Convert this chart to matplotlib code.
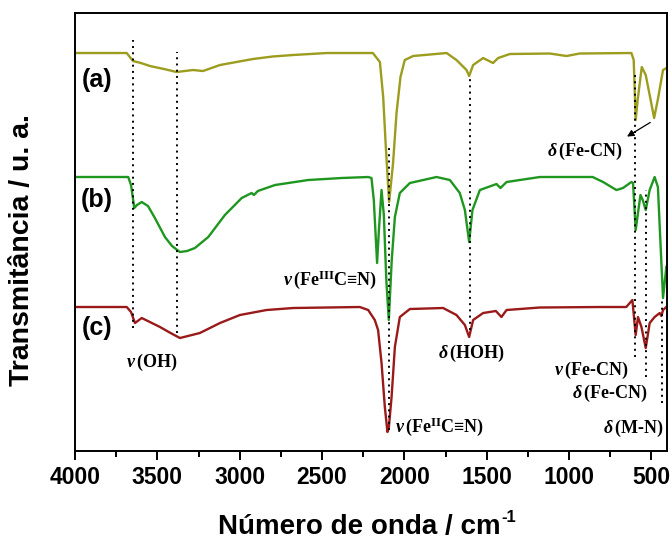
import matplotlib
matplotlib.use("Agg")
import matplotlib.pyplot as plt
from matplotlib.ticker import MultipleLocator

# spectra read as (wavenumber [cm-1], transmittance [a.u.]), curves already offset
wn_a = [4000, 3686, 3648, 3600, 3545, 3460, 3383, 3284, 3223, 3120, 3020, 2920, 2800, 2677,
        2471, 2192, 2149, 2129, 2113, 2093, 2069, 2048, 2024, 1998, 1947, 1744, 1684, 1623,
        1607, 1583, 1522, 1462, 1431, 1360, 1118, 1016, 936, 622, 608, 596, 584, 559, 535,
        511, 484, 462, 430, 408]
t_a = [398, 398, 390, 388, 385, 382, 379, 381, 380, 386, 389, 392, 394.5, 396,
       398, 398, 389, 354, 304, 249, 288, 338, 374, 391, 395, 398, 391, 381,
       375, 386, 393, 388, 393, 397, 397.5, 395, 397.5, 398, 391, 331, 351, 384, 376,
       356, 333, 351, 381, 383]

wn_b = [4000, 3677, 3660, 3640, 3624, 3595, 3557, 3515, 3454, 3411, 3363, 3320, 3272, 3191,
        3090, 2988, 2928, 2914, 2890, 2786, 2584, 2382, 2220, 2200, 2186, 2166, 2155, 2139,
        2125, 2110, 2095, 2077, 2058, 2028, 1967, 1805, 1724, 1664, 1633, 1607, 1587, 1542,
        1441, 1417, 1380, 1178, 857, 794, 713, 673, 622, 612, 596, 567, 553, 535, 511, 481,
        461, 450, 430, 410]
t_b = [274, 274, 266, 243, 246, 249, 245, 233, 214, 205, 199, 200, 203, 214,
       236, 253, 258, 256, 260, 266, 271, 273, 274, 273, 251, 188, 221, 261,
       236, 171, 131, 191, 234, 258, 268, 274, 271, 258, 241, 209, 241, 261,
       267, 263, 269, 274, 274, 269, 261, 263, 269, 268, 221, 256, 251, 241, 261, 274,
       264, 224, 153, 184]

wn_c = [4000, 3686, 3660, 3636, 3595, 3484, 3420, 3363, 3242, 3120, 2999, 2837, 2675, 2271,
        2220, 2180, 2160, 2139, 2119, 2103, 2095, 2078, 2058, 2028, 1967, 1765, 1684, 1633,
        1607, 1583, 1522, 1445, 1411, 1380, 1178, 814, 653, 616, 596, 582, 561, 535, 511,
        481, 450, 440, 430, 410]
t_c = [144, 144, 139, 128, 133, 124, 118, 113, 118, 128, 136, 141, 143, 144,
       141, 131, 121, 88, 44, 19, 23, 54, 104, 134, 142, 143, 136, 126,
       114, 131, 138, 140, 134, 141, 143.5, 144, 144, 151, 116, 134, 124, 103, 128,
       134, 138, 135, 141, 144]

# band positions marked with dotted guides: wavenumber, lower and upper end
guide_wn = [3646, 3383, 2095, 1603, 598, 535, 434]
guide_lo = [123, 118, 21, 121, 94, 74, 48]
guide_hi = [411, 399, 304, 374, 378, 261, 153]

plt.rcParams['mathtext.fontset'] = 'custom'
plt.rcParams['mathtext.rm'] = 'Liberation Serif:bold'
plt.rcParams['mathtext.it'] = 'Liberation Serif:italic:bold'
plt.rcParams['mathtext.bf'] = 'Liberation Serif:bold'

fig = plt.figure(figsize=(6.71, 5.40), dpi=100)
ax = fig.add_axes([0.1118, 0.1648, 0.8822, 0.8111])

ax.plot(wn_a, t_a, color='#9c9c1e', lw=1.7)
ax.plot(wn_b, t_b, color='#1f961f', lw=1.7)
ax.plot(wn_c, t_c, color='#9a1a1a', lw=1.7)

for w, lo, hi in zip(guide_wn, guide_lo, guide_hi):
    ax.plot([w, w], [lo, hi], color='black', lw=1.4, linestyle=(0, (1, 2.2)))

ax.set_xlim(4000, 406)
ax.set_ylim(0, 438)
ax.xaxis.set_major_locator(MultipleLocator(500))
ax.xaxis.set_minor_locator(MultipleLocator(250))
ax.set_yticks([])
ax.tick_params(axis='x', which='major', direction='out', length=6.5, width=1.4, pad=4.5)
ax.tick_params(axis='x', which='minor', direction='out', length=4, width=1.4)
for lab in ax.get_xticklabels():
    lab.set_fontfamily('Liberation Sans')
    lab.set_fontweight('bold')
    lab.set_fontsize(16.5)
for sp in ax.spines.values():
    sp.set_linewidth(1.4)

ax.set_xlabel('Número de onda / cm', family='Liberation Sans', fontweight='bold',
              fontsize=20)
ax.xaxis.set_label_coords(0.48, -0.143)
ax.set_ylabel('Transmitância / u. a.', family='Liberation Sans', fontweight='bold',
              fontsize=20.5)
ax.yaxis.set_label_coords(-0.068, 0.459)

for name, yy in [('(a)', 371), ('(b)', 251), ('(c)', 123)]:
    ax.text(3866, yy, name, family='Liberation Sans', fontweight='bold', fontsize=18,
            ha='center', va='center')

fs = 13
ax.text(3535, 89, r'$\nu\,(\mathrm{OH})$', fontsize=fs, ha='center', va='center')
ax.text(2453, 171, r'$\nu\,(\mathrm{Fe^{III}}\text{C≡N})$', fontsize=fs, ha='center', va='center')
ax.text(1593, 98, r'$\delta\,(\mathrm{HOH})$', fontsize=fs, ha='center', va='center')
ax.text(1785, 24, r'$\nu\,(\mathrm{Fe^{II}}\text{C≡N})$', fontsize=fs, ha='center', va='center')
ax.text(638, 81, r'$\nu\,\text{(Fe-CN)}$', fontsize=fs, ha='right', va='center')
ax.text(523, 58, r'$\delta\,\text{(Fe-CN)}$', fontsize=fs, ha='right', va='center')
ax.text(426, 23, r'$\delta\,\text{(M-N)}$', fontsize=fs, ha='right', va='center')
ax.text(675, 300, r'$\delta\,\text{(Fe-CN)}$', fontsize=fs, ha='right', va='center')
ax.annotate('', xy=(663, 313), xytext=(493, 330),
            arrowprops=dict(arrowstyle='-|>', color='black', lw=0.9, mutation_scale=10))

# superscript of the unit, placed just after the x label
fig.canvas.draw()
bb = ax.xaxis.label.get_window_extent()
fig.text((bb.x1 + 1) / fig.bbox.width, (bb.y1 + 4) / fig.bbox.height, '-1',
         family='Liberation Sans', fontweight='bold', fontsize=12, ha='left', va='top')

fig.savefig('out.png', dpi=100)
